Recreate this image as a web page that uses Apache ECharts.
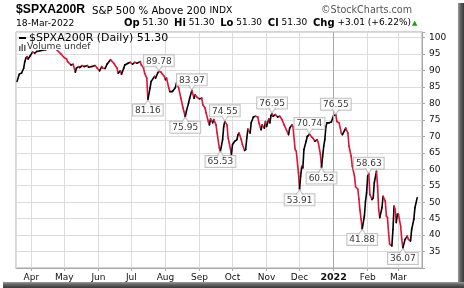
<!DOCTYPE html>
<html>
<head>
<meta charset="utf-8">
<script src="https://cdn.jsdelivr.net/npm/echarts@6/dist/echarts.min.js"></script>
<style>
html,body{margin:0;padding:0;background:#fff;}
#chart{width:464px;height:288px;}
</style>
</head>
<body>
<div id="chart"></div>
<script>
// ---- data ----
const dates = [
'2021-03-19','2021-03-21','2021-03-23','2021-03-25','2021-03-26','2021-03-27','2021-03-28','2021-03-29','2021-03-31',
'2021-04-02','2021-04-04','2021-04-06','2021-04-09','2021-04-14','2021-04-17','2021-04-21','2021-04-24','2021-04-28',
'2021-05-01','2021-05-03','2021-05-04','2021-05-07','2021-05-09','2021-05-11','2021-05-12','2021-05-14','2021-05-15',
'2021-05-17','2021-05-19','2021-05-22','2021-05-23','2021-05-26','2021-05-29','2021-05-31',
'2021-06-02','2021-06-04','2021-06-05','2021-06-07','2021-06-09','2021-06-12','2021-06-13','2021-06-15','2021-06-18',
'2021-06-19','2021-06-21','2021-06-22','2021-06-24','2021-06-25','2021-06-28','2021-06-30',
'2021-07-02','2021-07-04','2021-07-06','2021-07-09','2021-07-10','2021-07-12','2021-07-13','2021-07-15','2021-07-16',
'2021-07-18','2021-07-19','2021-07-22','2021-07-23','2021-07-25','2021-07-26','2021-07-28','2021-07-29','2021-07-31',
'2021-08-01','2021-08-02','2021-08-04','2021-08-05','2021-08-07','2021-08-08','2021-08-10','2021-08-11','2021-08-12',
'2021-08-13','2021-08-15','2021-08-17','2021-08-19','2021-08-20','2021-08-22','2021-08-23','2021-08-25','2021-08-27',
'2021-08-28','2021-08-30',
'2021-09-01','2021-09-03','2021-09-04','2021-09-06','2021-09-07','2021-09-09','2021-09-10','2021-09-11','2021-09-13',
'2021-09-14','2021-09-16','2021-09-17','2021-09-19','2021-09-20','2021-09-22','2021-09-23','2021-09-24','2021-09-26',
'2021-09-27','2021-09-28','2021-09-30',
'2021-10-01','2021-10-02','2021-10-03','2021-10-05','2021-10-06','2021-10-07','2021-10-09','2021-10-10','2021-10-12',
'2021-10-13','2021-10-14','2021-10-15','2021-10-17','2021-10-18','2021-10-20','2021-10-22','2021-10-24','2021-10-25',
'2021-10-27','2021-10-28','2021-10-30','2021-10-31',
'2021-11-01','2021-11-03','2021-11-04','2021-11-05','2021-11-06','2021-11-07','2021-11-09','2021-11-11','2021-11-13',
'2021-11-15','2021-11-17','2021-11-19','2021-11-21','2021-11-22','2021-11-24','2021-11-25','2021-11-27','2021-11-28',
'2021-11-30',
'2021-12-01','2021-12-02','2021-12-03','2021-12-04','2021-12-05','2021-12-07','2021-12-08','2021-12-09','2021-12-10',
'2021-12-12','2021-12-13','2021-12-15','2021-12-17','2021-12-18','2021-12-20','2021-12-21','2021-12-22','2021-12-23',
'2021-12-24','2021-12-25','2021-12-26','2021-12-28','2021-12-30',
'2022-01-01','2022-01-03','2022-01-04','2022-01-06','2022-01-08','2022-01-09','2022-01-11','2022-01-12','2022-01-14',
'2022-01-15','2022-01-17','2022-01-18','2022-01-20','2022-01-21','2022-01-23','2022-01-24','2022-01-25','2022-01-26',
'2022-01-27','2022-01-29','2022-01-30','2022-01-31',
'2022-02-01','2022-02-02','2022-02-03','2022-02-05','2022-02-06','2022-02-07','2022-02-09','2022-02-10','2022-02-11',
'2022-02-12','2022-02-14','2022-02-15','2022-02-17','2022-02-18','2022-02-19','2022-02-20','2022-02-21','2022-02-23',
'2022-02-24','2022-02-25','2022-02-26','2022-02-27','2022-02-28',
'2022-03-01','2022-03-03','2022-03-04','2022-03-05','2022-03-07','2022-03-09','2022-03-10','2022-03-12','2022-03-13',
'2022-03-15','2022-03-16','2022-03-18'
];
const values = [
86.7,88.9,89.2,90.7,92.7,93.8,94.2,93.5,94.5,
95.6,95.3,95.8,96.0,96.3,97.2,97.5,96.3,95.0,
93.9,93.5,92.7,91.7,91.9,89.5,90.7,91.2,90.9,
91.5,91.2,91.5,91.0,91.2,91.5,90.7,
89.9,91.2,90.7,90.6,92.0,93.3,92.9,92.2,90.7,
89.2,89.9,88.9,90.7,91.7,92.2,92.5,
91.9,92.5,92.2,92.7,91.7,90.9,89.2,87.7,81.16,
84.7,86.7,88.2,87.7,89.3,89.78,89.5,89.0,88.2,
87.2,87.7,84.7,83.6,83.6,83.9,84.8,86.2,85.5,
84.7,81.6,78.6,75.95,77.6,80.1,81.6,83.97,81.6,
82.6,81.8,
81.4,81.6,79.6,78.6,77.1,74.5,73.5,75.3,74.1,
75.1,73.5,71.0,66.5,65.53,69.0,73.0,74.55,73.5,
69.5,68.0,64.5,
67.5,68.0,68.5,69.0,70.5,71.0,69.0,67.5,65.7,
66.0,69.5,72.2,71.0,74.1,75.9,76.1,75.9,74.1,
72.0,73.5,72.5,74.5,
73.0,75.3,74.1,76.3,76.95,76.1,76.6,75.9,76.1,
75.1,73.5,72.0,70.5,72.5,73.5,73.0,66.0,65.5,
58.9,
53.91,57.9,60.9,60.4,66.0,68.5,70.0,70.2,70.74,
69.8,69.5,68.5,69.0,68.2,64.5,60.52,63.9,67.0,
69.0,73.0,74.1,74.1,74.4,
76.3,76.55,74.5,74.1,71.0,70.5,71.8,72.5,71.0,
67.0,63.9,60.9,57.9,54.6,54.0,51.0,47.5,44.8,
41.88,45.8,50.3,52.8,
57.9,58.63,52.3,50.8,51.3,55.9,59.4,54.8,47.8,
45.3,48.3,51.8,50.3,45.8,45.3,40.7,37.2,36.7,
41.7,48.8,47.8,43.8,46.3,
46.3,42.7,38.7,36.07,38.7,39.7,38.7,38.2,41.7,
44.8,48.3,51.30
];
const peakDates = ['2021-07-26','2021-08-25','2021-09-24','2021-11-06','2021-12-10','2022-01-03','2022-02-02'];
const troughDates = ['2021-07-16','2021-08-19','2021-09-20','2021-12-01','2021-12-21','2022-01-27','2022-03-05'];
const monthNames = ['Jan','Feb','Mar','Apr','May','Jun','Jul','Aug','Sep','Oct','Nov','Dec'];
const yTickValues = [35,40,45,50,55,60,65,70,75,80,85,90,95,100];
const xStart = '2021-03-18';
const xEnd = '2022-03-22';

// ---- helpers ----
function toTime(s){ const p = s.split('-').map(Number); return new Date(p[0], p[1]-1, p[2]).getTime(); }
const times = dates.map(toTime);
const segments = [];
for (let i = 1; i < times.length; i++) segments.push([times[i-1], values[i-1], times[i], values[i]]);
function pick(list){ return list.map(d => { const i = dates.indexOf(d); return [times[i], values[i]]; }); }
const peaks = pick(peakDates), troughs = pick(troughDates);

const RED = '#dc1438';
const FONT = 'DejaVu Sans';
const labelBox = {
  show: true, formatter: p => p.value[1].toFixed(2), fontFamily: FONT, fontSize: 9, color: '#000',
  backgroundColor: '#fff', borderColor: '#b4b4b4', borderWidth: 1, padding: [1, 2, 0, 2], lineHeight: 10
};

const chart = echarts.init(document.getElementById('chart'), null, {renderer: 'canvas'});
chart.setOption({
  animation: false,
  backgroundColor: '#fff',
  grid: { left: 16, right: 42, top: 32, bottom: 20, show: true, borderColor: '#a8a8a8', borderWidth: 1, backgroundColor: 'transparent' },
  xAxis: {
    type: 'time', min: toTime(xStart), max: toTime(xEnd) + 10*3600e3,
    minInterval: 28*864e5, maxInterval: 31*864e5,
    axisLine: { show: true, lineStyle: { color: '#a8a8a8' } },
    axisTick: { show: true, length: 3, lineStyle: { color: '#a8a8a8' } },
    splitLine: { show: true, lineStyle: { color: '#dcdcdc', width: 1 } },
    axisLabel: {
      fontFamily: FONT, fontSize: 9, color: '#111', margin: 5,
      formatter: v => { const d = new Date(v); if (d.getDate() !== 1 || d.getHours() !== 0) return '';
        return d.getMonth() === 0 ? '{y|' + d.getFullYear() + '}' : monthNames[d.getMonth()]; },
      rich: { y: { fontFamily: FONT, fontSize: 9.5, fontWeight: 'bold', color: '#111' } }
    }
  },
  yAxis: {
    type: 'value', position: 'right', min: 30, max: 101.7, interval: 5,
    axisLine: { show: true, lineStyle: { color: '#a8a8a8' } },
    axisTick: { show: true, length: 3, lineStyle: { color: '#a8a8a8' } },
    splitLine: { show: true, lineStyle: { color: '#dcdcdc', width: 1 } },
    axisLabel: { fontFamily: FONT, fontSize: 9, color: '#111', margin: 7,
      formatter: v => yTickValues.indexOf(v) >= 0 ? String(v) : '' }
  },
  series: [
    { type: 'line', data: [], silent: true,
      markLine: { symbol: 'none', silent: true, label: { show: false },
        lineStyle: { color: '#a8a8a8', type: 'solid', width: 1 },
        data: [{ xAxis: toTime('2022-01-01') }] } },
    { type: 'custom', coordinateSystem: 'cartesian2d', z: 3,
      encode: { x: [0, 2], y: [1, 3] }, data: segments,
      renderItem: (params, api) => {
        const a = api.coord([api.value(0), api.value(1)]);
        const b = api.coord([api.value(2), api.value(3)]);
        const down = api.value(3) < api.value(1);
        return { type: 'line', shape: { x1: a[0], y1: a[1], x2: b[0], y2: b[1] },
          style: { stroke: down ? RED : '#000', lineWidth: 1.6, lineCap: 'round' } };
      } },
    { type: 'scatter', z: 5, data: peaks, symbolSize: 0, itemStyle: { color: 'transparent' },
      label: Object.assign({}, labelBox, { position: 'top', distance: 5 }) },
    { type: 'scatter', z: 5, data: troughs, symbolSize: 0, itemStyle: { color: 'transparent' },
      label: Object.assign({}, labelBox, { position: 'bottom', distance: 5 }) },
    { type: 'scatter', z: 8, data: peaks, symbol: 'path://M0,0 L4,5 L8,0', symbolSize: [7, 5], symbolOffset: [0, -3],
      itemStyle: { color: '#fff', borderColor: '#b4b4b4', borderWidth: 1 } },
    { type: 'scatter', z: 8, data: troughs, symbol: 'path://M0,5 L4,0 L8,5', symbolSize: [7, 5], symbolOffset: [0, 3],
      itemStyle: { color: '#fff', borderColor: '#b4b4b4', borderWidth: 1 } }
  ],
  graphic: [
    // frame shadow
    { type: 'rect', z: 1, shape: { x: 458, y: 3, width: 6, height: 285 },
      style: { fill: new echarts.graphic.LinearGradient(0, 0, 1, 0, [{offset: 0, color: '#9a9a9a'}, {offset: 0.5, color: '#5a5a5a'}, {offset: 1, color: '#3a3a3a'}]) } },
    { type: 'rect', z: 1, shape: { x: 3, y: 282, width: 461, height: 6 },
      style: { fill: new echarts.graphic.LinearGradient(0, 0, 0, 1, [{offset: 0, color: '#9a9a9a'}, {offset: 0.5, color: '#5a5a5a'}, {offset: 1, color: '#3a3a3a'}]) } },
    // title
    { type: 'text', z: 100, left: 16, top: 4, style: { text: '$SPXA200R', font: 'bold 12.2px "Liberation Sans"', fill: '#000' } },
    { type: 'text', z: 100, left: 92, top: 5, style: { text: '{a|S&P 500 % Above 200} {b|INDX}', fill: '#000',
      rich: { a: { fontFamily: FONT, fontSize: 10.2, fill: '#000' }, b: { fontFamily: FONT, fontSize: 9.2, fill: '#000' } } } },
    { type: 'text', z: 100, right: 52, top: 5, style: { text: '\u00a9StockCharts.com', font: '9.6px "DejaVu Sans"', fill: '#555' } },
    { type: 'text', z: 100, left: 16, top: 19, style: { text: '18-Mar-2022', font: '9.2px "DejaVu Sans"', fill: '#000' } },
    { type: 'text', z: 100, right: 53, top: 18, style: {
      text: '{b|Op} 51.30  {b|Hi} 51.30  {b|Lo} 51.30  {b|Cl} 51.30  {b|Chg} +3.01 (+6.22%)',
      font: '9px "DejaVu Sans"', fill: '#000',
      rich: { b: { fontFamily: FONT, fontSize: 10, fontWeight: 'bold', fill: '#000' } } } },
    { type: 'text', z: 100, left: 412, top: 20, style: { text: '\u25b2', font: '7px "DejaVu Sans"', fill: '#1f9a1f' } },
    // in-plot legend
    { type: 'rect', z: 100, shape: { x: 19, y: 37, width: 7, height: 2 }, style: { fill: '#000' } },
    { type: 'text', z: 100, left: 29, top: 33, style: { text: '$SPXA200R (Daily) 51.30', font: '11px "DejaVu Sans"', fill: '#000' } },
    { type: 'rect', z: 99, shape: { x: 17, y: 43, width: 76, height: 7 }, style: { fill: '#fff' } },
    { type: 'rect', z: 100, shape: { x: 19, y: 46, width: 1.5, height: 5 }, style: { fill: '#666' } },
    { type: 'rect', z: 100, shape: { x: 21.5, y: 44, width: 1.5, height: 7 }, style: { fill: '#666' } },
    { type: 'rect', z: 100, shape: { x: 24, y: 45, width: 1.5, height: 6 }, style: { fill: '#666' } },
    { type: 'text', z: 100, left: 27, top: 42, style: { text: 'Volume undef', font: '9.2px "DejaVu Sans"', fill: '#333' } }
  ]
});
</script>
</body>
</html>
